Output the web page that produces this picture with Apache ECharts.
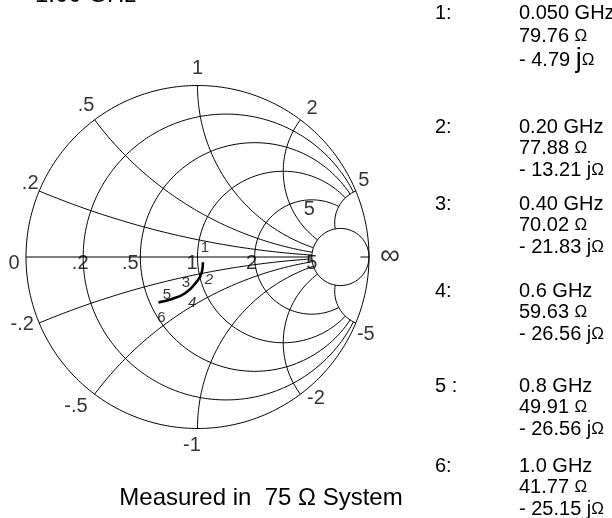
<!DOCTYPE html>
<html><head><meta charset="utf-8">
<script src="https://cdn.jsdelivr.net/npm/echarts@6/dist/echarts.min.js"></script>
<style>html,body{margin:0;padding:0;background:#fff}#c{width:612px;height:518px}</style>
</head><body><div id="c"></div>
<script>
// ---------------- data ----------------
const Z0 = 75;
const markerIds = ['1', '2', '3', '4', '5', '6'];
const tableIds = ['1:', '2:', '3:', '4:', '5 :', '6:'];
const freqLabels = ['0.050 GHz', '0.20 GHz', '0.40 GHz', '0.6 GHz', '0.8 GHz', '1.0 GHz'];
const resistance = [79.76, 77.88, 70.02, 59.63, 49.91, 41.77];
const reactance = [-4.79, -13.21, -21.83, -26.56, -26.56, -25.15];
const rCircles = [0.2, 0.5, 1, 2, 5];
const xArcs = [0.2, 0.5, 1, 2, 5, -0.2, -0.5, -1, -2, -5];
const rTickValues = [0, 0.2, 0.5, 1, 2, 5];
const rTickLabels = ['0', '.2', '.5', '1', '2', '5'];
const xTickValues = [1, 0.5, 0.2, -0.2, -0.5, -1, -2, -5, 5, 2];
const xTickLabels = ['1', '.5', '.2', '-.2', '-.5', '-1', '-2', '-5', '5', '2'];
const titleText = '1.00 GHz';
const footText = 'Measured in  75 \u03A9 System';

// ---------------- layout / style ----------------
const FONT = '"Liberation Sans", Arial, Helvetica, sans-serif';
const CX = 197.5, CY = 257, R = 171.5;
const rLabelOffset = { '0': [-12, 6], '.2': [-3, 6], '.5': [-10, 6], '1': [-5.5, 6], '2': [-3, 6], '5': [0, 6] };
const xLabelOffset = {
  '1': [0, -17.5], '.5': [-8.6, -14.8], '.2': [-9, -8], '-.2': [-17, 2], '-.5': [-18.6, 12.3],
  '-1': [-5.5, 16.5], '-2': [15.6, 3.8], '-5': [10, 12], '5': [8, -11], '2': [11.6, -11.8]
};
const markerOffset = { '1': [2, -14], '2': [7, 8.6], '3': [-9.5, 0], '4': [7, 9.7], '5': [-5, -4], '6': [3, 16] };
const markerItalic = { '2': true, '4': true };
const groupY = [13, 127, 204, 291, 386, 466];
const lineGap = [23.5, 21.5, 21.5, 21.5, 21.5, 21.5];

// ---------------- Smith chart geometry ----------------
function gamma(r, x) {
  const d = (r + 1) * (r + 1) + x * x;
  return [(r * r - 1 + x * x) / d, 2 * x / d];
}
function arcPts(cx, cy, rho, a0, a1, n) {
  const pts = [];
  for (let i = 0; i <= n; i++) {
    const a = a0 + (a1 - a0) * i / n;
    pts.push([cx + rho * Math.cos(a), cy + rho * Math.sin(a)]);
  }
  return pts;
}
const RMAX = rCircles[rCircles.length - 1];
const XMAX = Math.max.apply(null, xArcs);

const curves = [];
curves.push(arcPts(0, 0, 1, 0, 2 * Math.PI, 360));
rCircles.forEach(r => {
  const c = r / (1 + r), rho = 1 / (1 + r);
  if (r >= RMAX) {
    curves.push(arcPts(c, 0, rho, 0, 2 * Math.PI, 200));
  } else {
    const e = gamma(r, XMAX);
    const pe = Math.atan2(e[1], e[0] - c);
    curves.push(arcPts(c, 0, rho, pe, 2 * Math.PI - pe, 300));
  }
});
xArcs.forEach(x => {
  const cy = 1 / x, rho = 1 / Math.abs(x);
  const A = gamma(0, x), B = gamma(RMAX, x);
  const a = Math.atan2(A[1] - cy, A[0] - 1);
  const b = Math.atan2(B[1] - cy, B[0] - 1);
  let d = b - a;
  while (d > Math.PI) d -= 2 * Math.PI;
  while (d <= -Math.PI) d += 2 * Math.PI;
  curves.push(arcPts(1, cy, rho, a, a + d, 300));
});
curves.push([[-1, 0], [gamma(RMAX, 0)[0], 0]]);
curves.push([[0.95, 0], [1, 0]]);

const gridSeries = curves.map(pts => ({
  type: 'line', data: pts, symbol: 'none', showSymbol: false, silent: true,
  lineStyle: { color: '#000', width: 1 }, animation: false, z: 1
}));

// trace from table (normalised to Z0)
const tracePts = resistance.map((rv, i) => gamma(rv / Z0, reactance[i] / Z0));

function labelItem(pos, text, off, extra) {
  return {
    value: pos,
    label: Object.assign({
      show: true, position: 'inside', formatter: text, offset: off,
      color: '#000', fontFamily: FONT, fontSize: 20
    }, extra || {})
  };
}
const labelData = [];
rTickValues.forEach((r, i) => {
  const t = rTickLabels[i];
  labelData.push(labelItem([gamma(r, 0)[0], 0], t, rLabelOffset[t]));
});
xTickValues.forEach((x, i) => {
  const t = xTickLabels[i];
  labelData.push(labelItem(gamma(0, x), t, xLabelOffset[t]));
});
labelData.push(labelItem([1, 0], '\u221E', [21, -1], { fontSize: 28 }));
labelData.push(labelItem(gamma(5, 5), '5', [-26, -19]));
markerIds.forEach((m, i) => {
  labelData.push(labelItem(tracePts[i], m, markerOffset[m],
    { fontSize: 15, fontStyle: markerItalic[m] ? 'italic' : 'normal' }));
});

// table graphics
const graphics = [];
graphics.push({ type: 'text', x: 35, y: -5, style: { text: titleText, fontSize: 24, fontFamily: FONT, fill: '#000', verticalAlign: 'middle' } });
graphics.push({ type: 'text', x: 261, y: 498, style: { text: footText, fontSize: 24, fontFamily: FONT, fill: '#000', align: 'center', verticalAlign: 'middle' } });
tableIds.forEach((id, i) => {
  const y0 = groupY[i], g = lineGap[i];
  const base = { fontSize: 20, fontFamily: FONT, fill: '#000', verticalAlign: 'middle' };
  graphics.push({ type: 'text', x: 435, y: y0, style: Object.assign({ text: id }, base) });
  graphics.push({ type: 'text', x: 519, y: y0, style: Object.assign({ text: freqLabels[i] }, base) });
  graphics.push({ type: 'text', x: 519, y: y0 + g, style: Object.assign({ text: resistance[i].toFixed(2) + ' {o|\u03A9}', rich: { o: { fontSize: 17, fontFamily: FONT } } }, base) });
  const jSize = i === 0 ? 27 : 20;
  graphics.push({ type: 'text', x: 519, y: y0 + 2 * g, style: Object.assign({ text: '- ' + Math.abs(reactance[i]).toFixed(2) + ' {j|j}{o|\u03A9}', rich: { j: { fontSize: jSize, fontFamily: FONT }, o: { fontSize: 17, fontFamily: FONT } } }, base) });
});

const chart = echarts.init(document.getElementById('c'), null, { renderer: 'canvas' });
chart.setOption({
  backgroundColor: '#fff',
  animation: false,
  grid: { left: CX - R, top: CY - R, width: 2 * R, height: 2 * R, containLabel: false },
  xAxis: { type: 'value', min: -1, max: 1, show: false },
  yAxis: { type: 'value', min: -1, max: 1, show: false },
  series: gridSeries.concat([
    { type: 'line', data: tracePts, smooth: true, symbol: 'none', showSymbol: false,
      lineStyle: { color: '#000', width: 2.6 }, z: 3, silent: true },
    { type: 'scatter', data: labelData, symbolSize: 1, itemStyle: { color: 'rgba(0,0,0,0)' }, z: 4, silent: true }
  ]),
  graphic: graphics
});
</script></body></html>
